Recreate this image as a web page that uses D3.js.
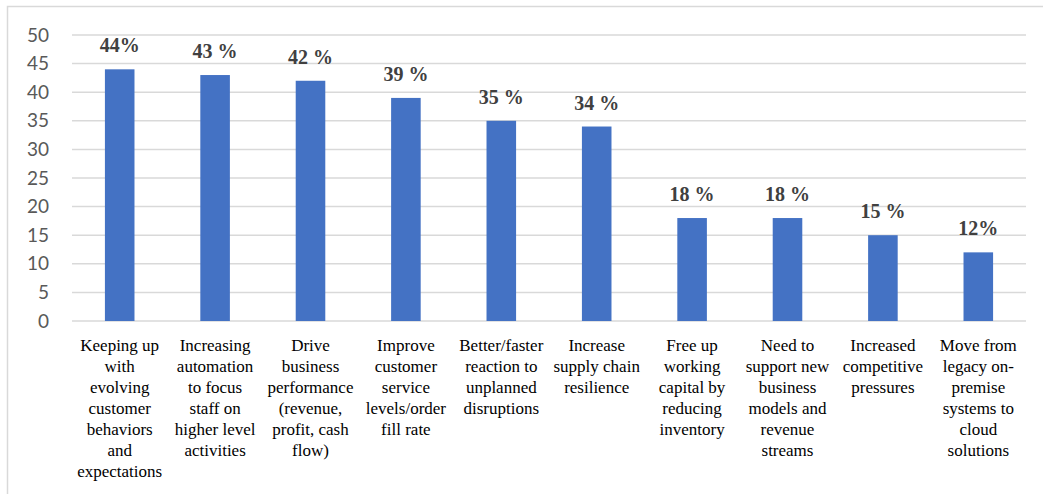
<!DOCTYPE html>
<html>
<head>
<meta charset="utf-8">
<script src="https://cdn.jsdelivr.net/npm/d3@7"></script>
<style>
  body { margin: 0; background: #fff; }
  svg { display: block; }
  .serif { font-family: "Liberation Serif", "Times New Roman", Times, serif; }
  .sans { font-family: Lato, "Liberation Sans", sans-serif; }
</style>
</head>
<body>
<div class="chart-area"></div>
<script>
// data
const categories = [
  ["Keeping up", "with", "evolving", "customer", "behaviors", "and", "expectations"],
  ["Increasing", "automation", "to focus", "staff on", "higher level", "activities"],
  ["Drive", "business", "performance", "(revenue,", "profit, cash", "flow)"],
  ["Improve", "customer", "service", "levels/order", "fill rate"],
  ["Better/faster", "reaction to", "unplanned", "disruptions"],
  ["Increase", "supply chain", "resilience"],
  ["Free up", "working", "capital by", "reducing", "inventory"],
  ["Need to", "support new", "business", "models and", "revenue", "streams"],
  ["Increased", "competitive", "pressures"],
  ["Move from", "legacy on-", "premise", "systems to", "cloud", "solutions"]
];
const values = [44, 43, 42, 39, 35, 34, 18, 18, 15, 12];
const valueLabels = ["44%", "43 %", "42 %", "39 %", "35 %", "34 %", "18 %", "18 %", "15 %", "12%"];
const yTicks = [0, 5, 10, 15, 20, 25, 30, 35, 40, 45, 50];

const width = 1043, height = 494;
const margin = {left: 72, right: 17, top: 35, bottom: 173};

const svg = d3.select(".chart-area").append("svg")
  .attr("width", width)
  .attr("height", height);

// outer frame (only top/left inside the picture)
svg.append("rect")
  .attr("x", 7.5).attr("y", 6.5)
  .attr("width", 1100).attr("height", 600)
  .attr("fill", "none")
  .attr("stroke", "#d9d9d9")
  .attr("stroke-width", 1.5);

const x = d3.scaleBand()
  .domain(d3.range(values.length))
  .range([margin.left, width - margin.right])
  .paddingInner(0.69)
  .paddingOuter(0.345);

const y = d3.scaleLinear()
  .domain([0, 50])
  .range([height - margin.bottom, margin.top]);

// gridlines
svg.append("g")
  .selectAll("line")
  .data(yTicks)
  .join("line")
  .attr("x1", margin.left)
  .attr("x2", width - margin.right)
  .attr("y1", d => y(d))
  .attr("y2", d => y(d))
  .attr("stroke", "#d9d9d9")
  .attr("stroke-width", 1.5);

// y axis labels
const yAxis = d3.axisLeft(y).tickValues(yTicks).tickSize(0).tickPadding(0);
svg.append("g")
  .attr("transform", `translate(${margin.left - 23},0)`)
  .call(yAxis)
  .call(g => g.select(".domain").remove())
  .call(g => g.attr("font-family", null).attr("font-size", null))
  .selectAll("text")
  .attr("class", "sans")
  .style("font-size", "19px")
  .attr("fill", "#595959");

// bars
svg.append("g")
  .selectAll("rect")
  .data(values)
  .join("rect")
  .attr("x", (d, i) => x(i))
  .attr("width", x.bandwidth())
  .attr("y", d => y(d))
  .attr("height", d => y(0) - y(d))
  .attr("fill", "#4472c4");

// value labels
svg.append("g")
  .selectAll("text")
  .data(values)
  .join("text")
  .attr("class", "serif")
  .attr("x", (d, i) => x(i) + x.bandwidth() / 2)
  .attr("y", d => y(d) - 17)
  .attr("text-anchor", "middle")
  .style("font-weight", "bold")
  .style("font-size", "20px")
  .attr("fill", "#404040")
  .text((d, i) => valueLabels[i]);

// category labels
const cat = svg.append("g")
  .selectAll("text")
  .data(categories)
  .join("text")
  .attr("class", "serif")
  .attr("x", (d, i) => x(i) + x.bandwidth() / 2)
  .attr("y", y(0) + 30)
  .attr("text-anchor", "middle")
  .style("font-size", "17px")
  .attr("fill", "#000");

cat.selectAll("tspan")
  .data(d => d)
  .join("tspan")
  .attr("x", function() { return d3.select(this.parentNode).attr("x"); })
  .attr("dy", (d, i) => i === 0 ? 0 : 21)
  .text(d => d);
</script>
</body>
</html>
